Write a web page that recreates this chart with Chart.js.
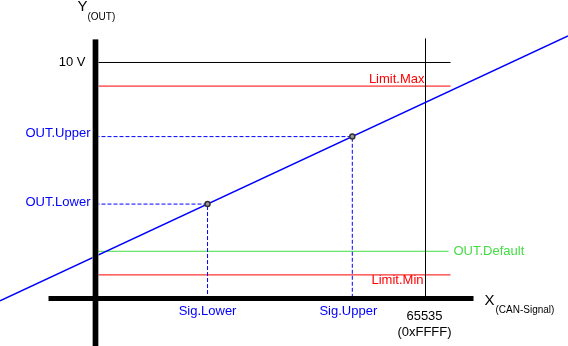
<!DOCTYPE html>
<html>
<head>
<meta charset="utf-8">
<script src="https://cdn.jsdelivr.net/npm/chart.js@4"></script>
<style>
  html, body { margin: 0; padding: 0; background: #fff; }
  canvas { display: block; }
</style>
</head>
<body>
<canvas id="chart" width="568" height="346"></canvas>
<script>
// x = CAN signal value, y = output in volts
const sigMax = 65535
const sigLower = 22250
const sigUpper = 51000
const outFull = 10
const limitMax = 9
const limitMin = 1
const outUpper = 6.86
const outLower = 4
const outDefault = 2

// characteristic line, read where it leaves the picture
const lineX = [-18965, 93834]
const lineY = [-0.1, 11.13]

// visible window of the drawing
const xRange = [-18965, 93834]
const yRange = [-2.013, 12.648]

// extents of axes and guide lines
const xAxisSpan = [-9330, 75070]
const yAxisSpan = [-2.02, 10.97]
const guideEnd = 70500
const defaultEnd = 70100
const sigMaxTop = 11.02

const BLUE = '#0000ff'
const RED = '#ff0000'
const GREEN = '#44dd44'

function seg(points, color, width, dash) {
  return {
    data: points,
    borderColor: color,
    borderWidth: width,
    borderDash: dash || [],
    pointRadius: 0,
    fill: false
  }
}

// listed bottom to top, reversed below because Chart.js paints dataset 0 last
const layers = [
  // guide lines
  seg([{ x: 0, y: outFull }, { x: guideEnd, y: outFull }], '#000', 1),
  seg([{ x: 0, y: limitMax }, { x: guideEnd, y: limitMax }], RED, 1),
  seg([{ x: 0, y: limitMin }, { x: guideEnd, y: limitMin }], RED, 1),
  seg([{ x: 0, y: outDefault }, { x: defaultEnd, y: outDefault }], GREEN, 1),
  seg([{ x: sigMax, y: 0 }, { x: sigMax, y: sigMaxTop }], '#000', 1),
  // dashed projections of the two operating points
  seg([{ x: 0, y: outUpper }, { x: sigUpper, y: outUpper }, { x: sigUpper, y: 0 }], BLUE, 1, [4, 2]),
  seg([{ x: 0, y: outLower }, { x: sigLower, y: outLower }, { x: sigLower, y: 0 }], BLUE, 1, [4, 2]),
  // characteristic
  seg([{ x: lineX[0], y: lineY[0] }, { x: lineX[1], y: lineY[1] }], BLUE, 1.5),
  // thick axes (grey edge + black core)
  seg([{ x: 0, y: yAxisSpan[0] }, { x: 0, y: yAxisSpan[1] }], '#8a8a8a', 6.5),
  seg([{ x: 0, y: yAxisSpan[0] }, { x: 0, y: yAxisSpan[1] }], '#000', 5),
  seg([{ x: xAxisSpan[0], y: 0 }, { x: xAxisSpan[1], y: 0 }], '#000', 5),
  // operating points
  {
    data: [{ x: sigLower, y: outLower }, { x: sigUpper, y: outUpper }],
    showLine: false,
    pointRadius: 2.5,
    pointBorderWidth: 1.5,
    pointBorderColor: '#333',
    pointBackgroundColor: '#999'
  }
]
const datasets = layers.slice().reverse()

// text labels placed at data positions
const labelPlugin = {
  id: 'labels',
  afterDatasetsDraw(chart) {
    const { ctx, scales: { x, y } } = chart
    const put = (text, px, py, color, align, size) => {
      ctx.save()
      ctx.font = (size || 13) + 'px "Liberation Sans", Arial, sans-serif'
      ctx.fillStyle = color
      ctx.textAlign = align
      ctx.textBaseline = 'middle'
      ctx.fillText(text, px, py)
      ctx.restore()
    }
    const x0 = x.getPixelForValue(0)
    const xAxisY = y.getPixelForValue(0)
    const xMaxPx = x.getPixelForValue(sigMax)

    put('10 V', x0 - 10, y.getPixelForValue(outFull), '#000', 'right')
    put('OUT.Upper', x0 - 5, y.getPixelForValue(outUpper) - 3, BLUE, 'right')
    put('OUT.Lower', x0 - 5, y.getPixelForValue(outLower) - 2, BLUE, 'right')
    put('Limit.Max', xMaxPx - 1, y.getPixelForValue(limitMax) - 7, RED, 'right')
    put('Limit.Min', xMaxPx - 2, y.getPixelForValue(limitMin) + 6, RED, 'right')
    put('OUT.Default', x.getPixelForValue(defaultEnd) + 5, y.getPixelForValue(outDefault), GREEN, 'left')
    put('Sig.Lower', x.getPixelForValue(sigLower), xAxisY + 13, BLUE, 'center')
    put('Sig.Upper', x.getPixelForValue(sigUpper) - 4, xAxisY + 13, BLUE, 'center')
    put('65535', xMaxPx - 1, xAxisY + 18, '#000', 'center')
    put('(0xFFFF)', xMaxPx - 1, xAxisY + 34, '#000', 'center')

    // axis titles
    put('Y', x0 - 18, 7, '#000', 'left', 15)
    put('(OUT)', x0 - 8, 17, '#000', 'left', 10)
    const xEnd = x.getPixelForValue(xAxisSpan[1])
    put('X', xEnd + 11, xAxisY + 2, '#000', 'left', 15)
    put('(CAN-Signal)', xEnd + 22, xAxisY + 12, '#000', 'left', 10)
  }
}

new Chart(document.getElementById('chart'), {
  type: 'line',
  data: { datasets },
  options: {
    responsive: false,
    animation: false,
    layout: { padding: 0, autoPadding: false },
    plugins: {
      legend: { display: false },
      tooltip: { enabled: false }
    },
    scales: {
      x: { type: 'linear', min: xRange[0], max: xRange[1], display: false },
      y: { type: 'linear', min: yRange[0], max: yRange[1], display: false }
    },
    elements: { line: { tension: 0 } }
  },
  plugins: [labelPlugin]
})
</script>
</body>
</html>
